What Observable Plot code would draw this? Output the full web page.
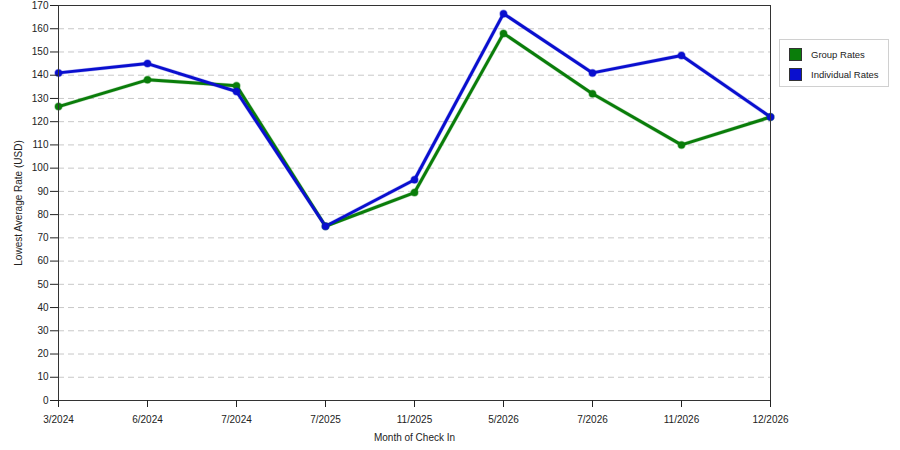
<!DOCTYPE html>
<html>
<head>
<meta charset="utf-8">
<script src="https://cdn.jsdelivr.net/npm/d3@7"></script>
<script src="https://cdn.jsdelivr.net/npm/@observablehq/plot@0.6"></script>
<style>
  body { margin: 0; background: #fff; font-family: "Liberation Sans", Arial, sans-serif; }
  #wrap { position: relative; width: 900px; height: 450px; }
  #legend { position: absolute; left: 779px; top: 39px; width: 108px; height: 46px; border: 1px solid #d0d0d0; background: #fff; font-size: 9.5px; color: #222; }
  .item { position: absolute; left: 9px; display: flex; align-items: center; }
  .sw { width: 11px; height: 11px; border: 1px solid #333; margin-right: 9px; }
</style>
</head>
<body>
<div id="wrap"></div>
<script>
const months = ["3/2024", "6/2024", "7/2024", "7/2025", "11/2025", "5/2026", "7/2026", "11/2026", "12/2026"];
const groupRates = [126.5, 138, 135.5, 75, 89.5, 158, 132, 110, 122];
const individualRates = [141, 145, 133, 75, 95, 166.5, 141, 148.5, 122];
const seriesNames = ["Group Rates", "Individual Rates"];
const seriesColors = ["#0a7d0a", "#0a0fcf"];
const yTicks = d3.range(0, 171, 10);

const data = [];
months.forEach((m, i) => {
  data.push({month: m, rate: groupRates[i], series: seriesNames[0]});
});
months.forEach((m, i) => {
  data.push({month: m, rate: individualRates[i], series: seriesNames[1]});
});

const chart = Plot.plot({
  width: 900,
  height: 450,
  marginLeft: 58,
  marginRight: 130,
  marginTop: 5,
  marginBottom: 50,
  style: {fontFamily: "'Liberation Sans', Arial, sans-serif", fontSize: "10px", color: "#222", background: "#fff"},
  x: {type: "point", domain: months, padding: 0},
  y: {domain: [0, 170]},
  color: {domain: seriesNames, range: seriesColors},
  marks: [
    Plot.gridY(yTicks.filter(t => t > 0 && t < 170), {stroke: "#c8c8c8", strokeOpacity: 1, strokeDasharray: "6,4"}),
    Plot.line(data, {x: "month", y: "rate", z: "series", stroke: "series", strokeWidth: 4, strokeOpacity: 0.25}),
    Plot.line(data, {x: "month", y: "rate", z: "series", stroke: "series", strokeWidth: 3}),
    Plot.dot(data, {x: "month", y: "rate", fill: "series", r: 3.5, stroke: "series", strokeOpacity: 0.4, strokeWidth: 1.5}),
    Plot.frame({stroke: "#333"}),
    Plot.axisY(yTicks, {tickSize: 8, tickPadding: 2, label: "Lowest Average Rate (USD)", labelAnchor: "center", labelArrow: "none", labelOffset: 44}),
    Plot.axisX({tickSize: 7, tickPadding: 8, label: "Month of Check In", labelAnchor: "center", labelArrow: "none", labelOffset: 40})
  ]
});
const wrap = document.getElementById("wrap");
wrap.appendChild(chart);

const legend = document.createElement("div");
legend.id = "legend";
seriesNames.forEach((name, i) => {
  const item = document.createElement("div");
  item.className = "item";
  item.style.top = (8 + i * 20) + "px";
  const sw = document.createElement("div");
  sw.className = "sw";
  sw.style.background = seriesColors[i];
  item.appendChild(sw);
  const label = document.createElement("span");
  label.textContent = name;
  item.appendChild(label);
  legend.appendChild(item);
});
wrap.appendChild(legend);
</script>
</body>
</html>
